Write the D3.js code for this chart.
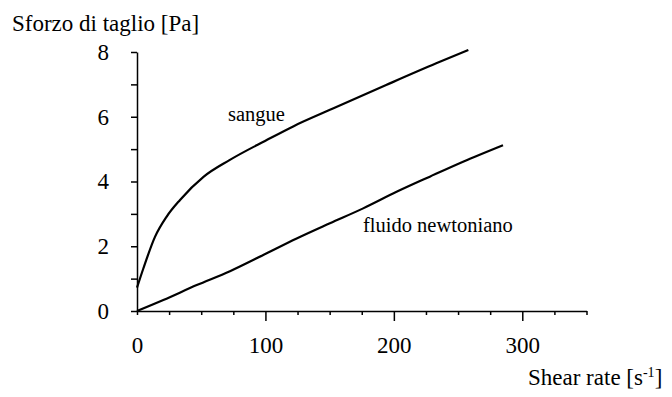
<!DOCTYPE html>
<html>
<head>
<meta charset="utf-8">
<script src="https://cdn.jsdelivr.net/npm/d3@7"></script>
</head>
<body style="margin:0">
<script>
// shear rate [1/s] vs shear stress [Pa]
const bloodRate   = [0, 5, 14, 23, 33.5, 52, 72, 101, 122, 153, 194, 233, 258];
const bloodStress = [0.72, 1.32, 2.29, 2.91, 3.43, 4.15, 4.66, 5.28, 5.71, 6.26, 6.98, 7.65, 8.06];
const newtRate    = [0, 20.5, 46.5, 72.4, 98.3, 124.3, 150.2, 176.1, 202.1, 228, 253.9, 285];
const newtStress  = [0, 0.34, 0.8, 1.23, 1.73, 2.24, 2.71, 3.17, 3.68, 4.15, 4.61, 5.12];

const xMajor = [0, 100, 200, 300];
const xMinor = [25, 50, 75, 125, 150, 175, 225, 250, 275, 325, 350];
const yTicks = [0, 1, 2, 3, 4, 5, 6, 7, 8];
const yLabels = [0, 2, 4, 6, 8];

const width = 672, height = 397;
const serif = "'Liberation Serif'";

const svg = d3.select("body").append("svg")
    .attr("width", width).attr("height", height)
    .style("font-family", serif);

const x = d3.scaleLinear().domain([0, 350]).range([137, 586.5]);
const y = d3.scaleLinear().domain([0, 8]).range([311, 52]);

function styleAxis(g) {
  g.selectAll("path, line").attr("stroke", "#000").attr("stroke-width", 1.5);
  g.selectAll("text").style("font-family", serif).style("font-size", "23px");
}

// x axis: minor ticks then labelled major ticks
svg.append("g")
    .attr("transform", "translate(0," + y(0) + ")")
    .call(d3.axisBottom(x).tickValues(xMinor).tickSize(4).tickSizeOuter(0).tickFormat(""))
    .call(styleAxis);
const gx = svg.append("g")
    .attr("transform", "translate(0," + y(0) + ")")
    .call(d3.axisBottom(x).tickValues(xMajor).tickSize(10).tickSizeOuter(0).tickPadding(16))
    .call(styleAxis);
gx.select(".domain").remove();
gx.selectAll(".tick").filter(d => d === 0).select("line").attr("y2", 4);

// y axis
svg.append("g")
    .attr("transform", "translate(" + x(0) + ",0)")
    .call(d3.axisLeft(y).tickValues(yTicks).tickSize(6).tickSizeOuter(0).tickPadding(22)
      .tickFormat(d => yLabels.includes(d) ? d : ""))
    .call(styleAxis);

const line = d3.line().x(d => x(d[0])).y(d => y(d[1])).curve(d3.curveMonotoneX);

svg.append("path")
    .datum(d3.zip(bloodRate, bloodStress))
    .attr("fill", "none").attr("stroke", "#000").attr("stroke-width", 2.2)
    .attr("d", line);

svg.append("path")
    .datum(d3.zip(newtRate, newtStress))
    .attr("fill", "none").attr("stroke", "#000").attr("stroke-width", 2.2)
    .attr("d", line);

// labels
function label(xp, yp, size, txt) {
  return svg.append("text").attr("x", xp).attr("y", yp)
      .style("font-family", serif).style("font-size", size + "px").text(txt);
}
label(12, 31, 23, "Sforzo di taglio [Pa]");

const xl = label(528, 385, 23, "Shear rate [s");
xl.append("tspan").attr("dy", -8).style("font-size", "14px").text("-1");
xl.append("tspan").attr("dy", 8).text("]");

label(228, 121, 20.5, "sangue");
label(363, 232, 20.5, "fluido newtoniano");
</script>
</body>
</html>
